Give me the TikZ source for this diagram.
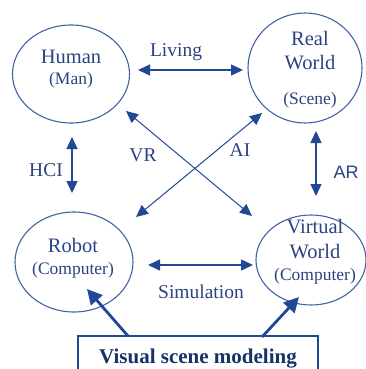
\documentclass[tikz,border=0pt]{standalone}
\usepackage{fontspec}
\setmainfont{Liberation Serif}
\newfontfamily\arfont{Liberation Sans}
\usetikzlibrary{arrows.meta,shapes.geometric}
\definecolor{ink}{RGB}{32,72,148}
\definecolor{txt}{RGB}{42,66,128}
\tikzset{
  world/.style={draw=ink!85, line width=1.1pt, ellipse},
  link/.style={draw=ink, line width=1.4pt, {Triangle[length=12pt,width=11pt]}-{Triangle[length=12pt,width=11pt]}},
  thin link/.style={draw=ink, line width=1pt, {Triangle[length=12pt,width=11pt]}-{Triangle[length=12pt,width=11pt]}},
  feed/.style={draw=ink, line width=2.8pt, -{Triangle[length=15pt,width=15pt]}},
  lbl/.style={text=txt, font=\fontsize{19.5}{22}\selectfont},
  big/.style={text=txt, font=\fontsize{20.5}{23}\selectfont},
  small/.style={text=txt, font=\fontsize{17.5}{20}\selectfont},
}
\begin{document}
\begin{tikzpicture}[x=1pt,y=-1pt]
\useasboundingbox (0,0) rectangle (366,369);
% ellipses
\node[world, minimum width=117pt, minimum height=98pt] (hum) at (71,74) {};
\node[world, minimum width=114pt, minimum height=110pt] (real) at (305,68) {};
\node[world, minimum width=118pt, minimum height=100pt] (rob) at (74,262) {};
\node[world, minimum width=110pt, minimum height=90pt] (virt) at (311,260) {};
% texts
\node[big] (t1) at (71,57) {Human};
\node[small] (t2) at (71,80) {(Man)};
\node[big] (t3) at (310,38) {Real};
\node[big] (t4) at (310,63) {World};
\node[small] (t5) at (310,100) {(Scene)};
\node[big] (t6) at (73,245) {Robot};
\node[small] (t7) at (73,270) {(Computer)};
\node[big] (t8) at (315,227) {Virtual};
\node[big] (t9) at (315,252) {World};
\node[small] (t10) at (315,276) {(Computer)};
% anchor coordinates
\coordinate (hR) at (138,70);
\coordinate (rL) at (243,70);
\coordinate (hB) at (72,137);
\coordinate (rB) at (72,193);
\coordinate (reB) at (316,131);
\coordinate (vT) at (316,196);
\coordinate (hD) at (126,111);
\coordinate (vD) at (252,216);
\coordinate (rbD) at (136,217);
\coordinate (reD) at (262,113);
\coordinate (sL) at (148,265);
\coordinate (sR) at (253,265);
% connectors
\draw[link] (hR) -- (rL);
\draw[link] (hB) -- (rB);
\draw[link] (reB) -- (vT);
\draw[thin link] (hD) -- (vD);
\draw[thin link] (rbD) -- (reD);
\draw[link] (sL) -- (sR);
% labels
\node[lbl] (l1) at (176,52) {Living};
\node[lbl] (l2) at (46,170) {HCI};
\node[lbl, font=\arfont\fontsize{18}{20}\selectfont] (l3) at (346,172) {AR};
\node[lbl] (l4) at (143,155) {VR};
\node[lbl] (l5) at (240,150) {AI};
\node[lbl] (l6) at (201,292) {Simulation};
% box
\draw[draw=ink, line width=1.1pt] (78,369) -- (78,336) -- (318,336) -- (318,369);
\node[text=ink!70!black, font=\bfseries\fontsize{21}{23}\selectfont] (box) at (198,359) {Visual scene modeling};
\coordinate (b1) at (128,336);
\coordinate (b2) at (262,337);
\coordinate (e1) at (87,289);
\coordinate (e2) at (299,297);
\draw[feed] (b1) -- (e1);
\draw[feed] (b2) -- (e2);
\end{tikzpicture}
\end{document}
